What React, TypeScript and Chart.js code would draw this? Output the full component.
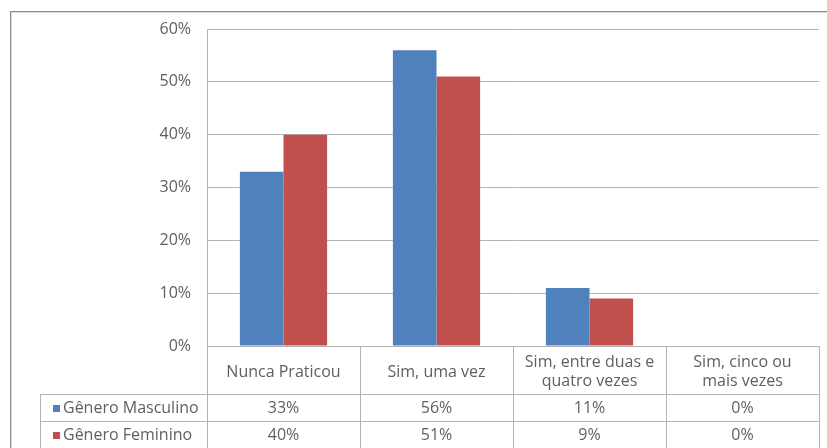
import React, { useEffect, useRef } from "react";
import { Chart, registerables } from "chart.js";

Chart.register(...registerables);

// Survey answers (column headers of the data table, split into lines)
const categoryLines: string[][] = [
  ["Nunca Praticou"],
  ["Sim, uma vez"],
  ["Sim, entre duas e", "quatro vezes"],
  ["Sim, cinco ou", "mais vezes"],
];
const categories = categoryLines.map((l) => l.join(" "));

const seriesNames = ["Gênero Masculino", "Gênero Feminino"];
const masculino = [33, 56, 11, 0];
const feminino = [40, 51, 9, 0];
const seriesColors = ["#4F81BD", "#C0504D"];

const yTicks = [0, 10, 20, 30, 40, 50, 60];

const FONT = "'Open Sans', 'DejaVu Sans', sans-serif";
const TEXT = "#5f5f5f";
const LINE = "#b4b4b4";

// Draws the data table under the plot plus the frame around the chart
const dataTablePlugin = {
  id: "dataTable",
  afterDraw(chart: any) {
    const { ctx, chartArea } = chart;
    const left = chartArea.left;
    const right = chartArea.right;
    const top = chartArea.bottom;
    const headerH = 48;
    const rowH = 27;
    const legendLeft = 40;
    const n = categories.length;
    const colW = (right - left) / n;
    const values = [masculino, feminino];

    ctx.save();
    ctx.strokeStyle = LINE;
    ctx.lineWidth = 1;

    const hLine = (x1: number, x2: number, y: number) => {
      ctx.beginPath();
      ctx.moveTo(x1, Math.round(y) + 0.5);
      ctx.lineTo(x2, Math.round(y) + 0.5);
      ctx.stroke();
    };
    const vLine = (x: number, y1: number, y2: number) => {
      ctx.beginPath();
      ctx.moveTo(Math.round(x) + 0.5, y1);
      ctx.lineTo(Math.round(x) + 0.5, y2);
      ctx.stroke();
    };

    const rowTops = [top + headerH, top + headerH + rowH];
    const tableBottom = top + headerH + 2 * rowH;
    rowTops.forEach((y) => hLine(legendLeft, right + 1, y));
    hLine(legendLeft, right + 1, tableBottom);
    vLine(legendLeft, rowTops[0], tableBottom + 1);
    for (let i = 0; i <= n; i++) {
      vLine(left + i * colW, top, tableBottom + 1);
    }

    ctx.fillStyle = TEXT;
    ctx.font = `16px ${FONT}`;
    ctx.textAlign = "center";
    ctx.textBaseline = "middle";

    // category headers
    categoryLines.forEach((lines, i) => {
      const cx = left + (i + 0.5) * colW;
      const lh = 19;
      const cy = top + headerH / 2 + 2;
      lines.forEach((line, j) => {
        ctx.fillText(line, cx, cy + (j - (lines.length - 1) / 2) * lh);
      });
    });

    // series rows
    seriesNames.forEach((name, r) => {
      const cy = rowTops[r] + rowH / 2 + 1;
      ctx.fillStyle = seriesColors[r];
      ctx.fillRect(legendLeft + 13, cy - 3.5, 7, 7);
      ctx.fillStyle = TEXT;
      ctx.textAlign = "left";
      ctx.fillText(name, legendLeft + 23, cy);
      ctx.textAlign = "center";
      values[r].forEach((v, i) => {
        ctx.fillText(`${v}%`, left + (i + 0.5) * colW, cy);
      });
    });

    // outer frame
    ctx.strokeStyle = "#8a8a8a";
    hLine(10, chart.width, 11);
    vLine(10, 11, chart.height);
    ctx.strokeStyle = "#dcdcdc";
    hLine(11, chart.width, 12);
    vLine(11, 12, chart.height);
    ctx.restore();
  },
};

export default function App() {
  const canvasRef = useRef<HTMLCanvasElement>(null);

  useEffect(() => {
    document.body.style.margin = "0";
    const canvas = canvasRef.current;
    if (!canvas) return;
    const chart = new Chart(canvas, {
      type: "bar",
      data: {
        labels: categories,
        datasets: [
          {
            label: seriesNames[0],
            data: masculino,
            backgroundColor: seriesColors[0],
          },
          {
            label: seriesNames[1],
            data: feminino,
            backgroundColor: seriesColors[1],
          },
        ],
      },
      options: {
        responsive: false,
        animation: false,
        devicePixelRatio: 1,
        datasets: {
          bar: {
            barPercentage: 1,
            categoryPercentage: 0.57,
          },
        },
        layout: {
          padding: { left: 10, right: 8, top: 29, bottom: 102 },
        },
        plugins: {
          legend: { display: false },
          tooltip: { enabled: false },
          title: { display: false },
        },
        scales: {
          x: {
            display: false,
          },
          y: {
            min: yTicks[0],
            max: yTicks[yTicks.length - 1],
            afterFit: (scale: any) => {
              scale.width = 197;
            },
            afterBuildTicks: (scale: any) => {
              scale.ticks = yTicks.map((v) => ({ value: v }));
            },
            ticks: {
              callback: (v: any) => `${v}%`,
              color: TEXT,
              font: { family: FONT, size: 16 },
              padding: 16,
            },
            grid: {
              color: LINE,
              drawTicks: false,
            },
            border: {
              display: true,
              color: LINE,
            },
          },
        },
      },
      plugins: [dataTablePlugin],
    });
    return () => chart.destroy();
  }, []);

  return (
    <div style={{ position: "absolute", left: 0, top: 0, width: 827, height: 448 }}>
      <canvas ref={canvasRef} width={827} height={448} />
    </div>
  );
}
